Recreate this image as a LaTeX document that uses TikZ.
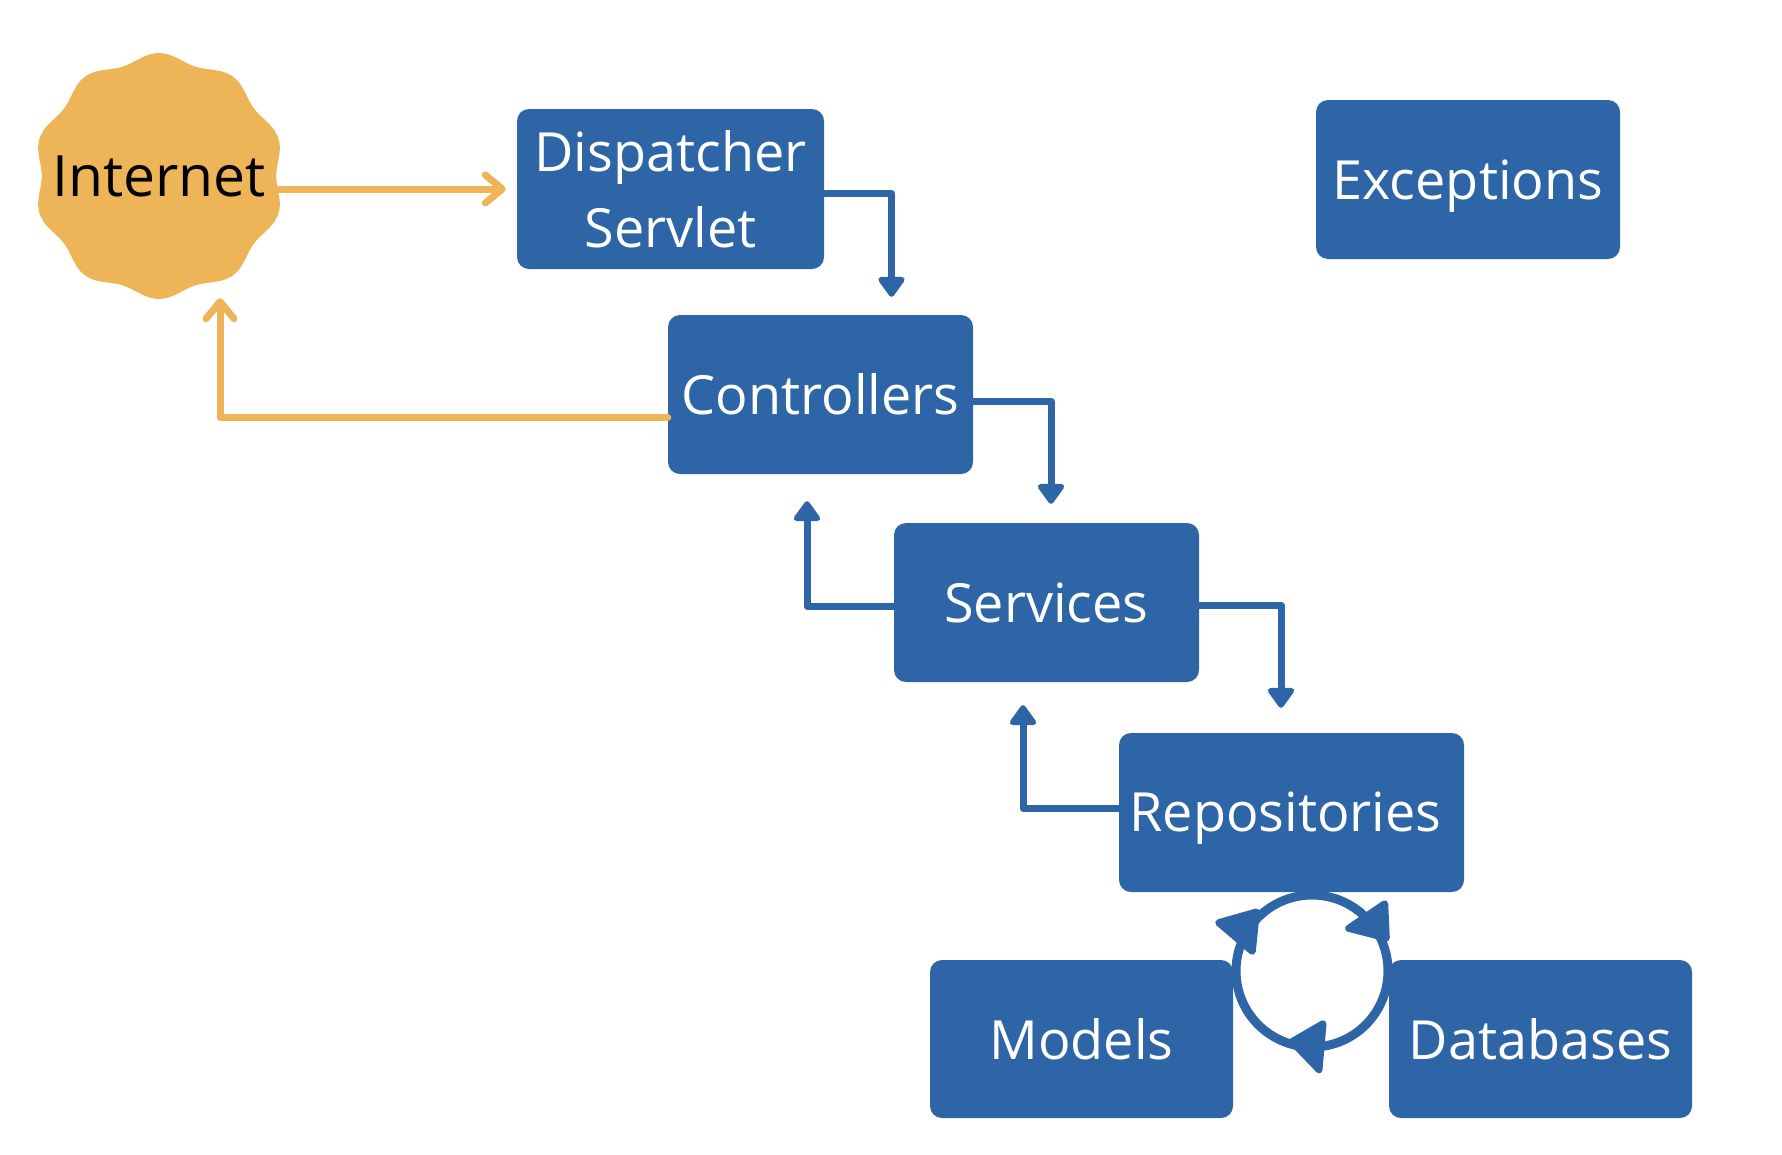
\documentclass[tikz,border=0pt]{standalone}
\usepackage{fontspec}
\setmainfont{Open Sans}
\usetikzlibrary{arrows.meta,calc}
\definecolor{bluec}{HTML}{2E65A6}
\definecolor{orangec}{HTML}{EDB558}
\begin{document}
\begin{tikzpicture}[x=1pt,y=1pt,
  box/.style={fill=bluec, rounded corners=12pt, text=white,
    font=\fontsize{54}{76}\selectfont, align=center, inner sep=0pt,
    minimum height=159pt},
  blline/.style={draw=bluec, line width=7pt, line join=round,
    -{Triangle[length=22pt,width=30pt,line join=round]}},
  orline/.style={draw=orangec, line width=7pt, line join=round, line cap=round,
    -{Straight Barb[length=17pt,width=28pt,round]}}]
\useasboundingbox (0,0) rectangle (1782,-1154);
% Internet seal
\fill[orangec] plot[domain=0:360, samples=241, smooth]
  ({159+1.02*(119+4*cos(10*(\x-90)))*cos(\x)}, {-176+(119+4*cos(10*(\x-90)))*sin(\x)}) -- cycle;
\node[circle, minimum size=240pt, inner sep=0pt, text=black,
  font=\fontsize{57}{60}\selectfont] (inet) at (159,-176) {Internet};
% boxes
\node[box, minimum width=307pt, minimum height=160pt] (disp) at (670.5,-189) {Dispatcher\\Servlet};
\node[box, minimum width=305pt] (ctrl) at (820.5,-394.5) {Controllers};
\node[box, minimum width=305pt] (serv) at (1046.5,-602.5) {Services};
\node[box, minimum width=345pt] (repo) at (1291.5,-812.5) {\raisebox{-6pt}[\height][\depth]{Repositories}\hspace*{12pt}};
\node[box, minimum width=304pt] (exc) at (1468,-179.5) {\raisebox{-7pt}[\height][\depth]{Exceptions}};
\node[box, minimum width=303pt, minimum height=158pt] (models) at (1081.5,-1039) {Models};
\node[box, minimum width=303pt, minimum height=158pt] (db) at (1540.5,-1039) {Databases};
% orange connectors
\draw[orline] (inet.east |- disp.west) -- ([xshift=-11]disp.west);
\draw[orline] ([yshift=-23]ctrl.west) -| ([xshift=61,yshift=-2]inet.south);
% blue connectors
\draw[blline] ([yshift=-4.5]disp.east) -| ([xshift=71,yshift=18]ctrl.north);
\draw[blline] ([yshift=-7]ctrl.east) -| ([xshift=4.5,yshift=19]serv.north);
\draw[blline] ([yshift=-4]serv.west) -| ([xshift=-13.5,yshift=-27]ctrl.south);
\draw[blline] ([yshift=-3]serv.east) -| ([xshift=-10.5,yshift=25]repo.north);
\draw[blline] ([yshift=4]repo.west) -| ([xshift=-23.5,yshift=-23]serv.south);
% cycle icon
\node[circle, draw=bluec, line width=9pt, minimum size=152pt, inner sep=0pt] (cyc) at (1312,-971) {};
\begin{scope}[shift={(cyc.center)}]
  \filldraw[bluec, line width=7pt, line join=round]
    (-93.3,48.3) -- (-55.7,59) -- (-59.7,19.7) -- cycle;
  \filldraw[bluec, line width=7pt, line join=round]
    (36.7,42.7) -- (72.7,67.3) -- (74.3,33) -- cycle;
  \filldraw[bluec, line width=7pt, line join=round]
    (-20,-70.7) -- (11,-52.7) -- (7,-98.7) -- cycle;
\end{scope}
\end{tikzpicture}
\end{document}
